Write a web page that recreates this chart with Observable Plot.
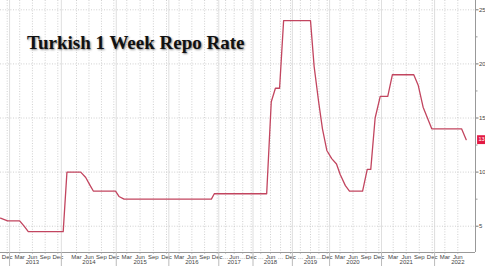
<!DOCTYPE html>
<html><head><meta charset="utf-8">
<script src="https://cdn.jsdelivr.net/npm/d3@7"></script>
<script src="https://cdn.jsdelivr.net/npm/@observablehq/plot@0.6"></script>
<style>
html,body{margin:0;padding:0;background:#fff;}
#wrap{position:relative;width:485px;height:266px;overflow:hidden;background:#fff;}
#title{position:absolute;left:27px;top:33px;font:bold 19px/19px "Liberation Serif","Times New Roman",serif;color:#111;text-shadow:1px 1px 2px rgba(0,0,0,.45);white-space:nowrap;z-index:2;}
</style></head><body><div id="wrap"><div id="title">Turkish 1 Week Repo Rate</div></div>
<script>
// Series: Turkish 1-week repo rate (%)
const dates = ["2012-10-27","2012-12-18","2013-03-15","2013-04-16","2013-05-16","2014-01-10","2014-01-28","2014-04-15","2014-05-22","2014-06-24","2014-07-17","2014-12-27","2015-01-20","2015-02-24","2016-11-03","2016-11-24","2018-05-10","2018-06-22","2018-07-30","2018-09-06","2018-10-13","2019-06-15","2019-07-25","2019-09-12","2019-10-24","2019-12-11","2020-01-16","2020-02-19","2020-03-17","2020-04-22","2020-05-21","2020-08-22","2020-09-24","2020-10-19","2020-11-19","2020-12-24","2021-02-09","2021-03-10","2021-08-07","2021-09-08","2021-10-12","2021-12-12","2022-07-11","2022-08-12"];
const rates = [5.75,5.5,5.5,5.0,4.5,4.5,10,10,9.5,8.75,8.25,8.25,7.75,7.5,7.5,8,8,16.5,17.75,17.75,24,24,19.75,16.5,14,12,11.25,10.75,9.75,8.75,8.25,8.25,10.25,10.25,15,17,17,19,19,18,16,14,14,13];

// Axis labels (quarterly: Dec, Mar, Jun, Sep)
const tickDates = d3.utcMonth.range(new Date("2012-12-01"), new Date("2022-07-01"), 3).map(d => d3.utcDay.offset(d, 14));
const tickLabels = ["Dec",
  "Mar","Jun","Sep","Dec",
  "Mar","Jun","Sep","Dec",
  "Mar","Jun","Sep","Dec",
  "Mar","Jun","Sep","Dec",
  "…","Jun","…","Dec",
  "…","Jun","…","Dec",
  "…","Jun","…","Dec",
  "Mar","Jun","Sep","Dec",
  "Mar","Jun","Sep","Dec",
  "Mar","Jun"];
const yearLabels = ["2013","2014","2015","2016","2017","2018","2019","2020","2021","2022"];
const yearLabelDates = yearLabels.map(y => new Date(`${y}-06-15`));
const yearStarts = yearLabels.map(y => new Date(`${y}-01-01`));
const yTicks = [5,10,15,20,25];
const yMinorTicks = [7.5,12.5,17.5,22.5];

// Irregular (piecewise) time axis as drawn in the source chart
const xKnotDates = ["2012-10-27","2012-12-15","2013-12-15","2014-03-15","2014-12-15","2015-12-15","2016-12-15","2017-12-15","2018-06-15","2018-12-15","2019-06-15","2019-12-15","2020-12-15","2021-03-15","2021-12-15","2022-06-15","2022-10-15"].map(d => new Date(d));
const xKnotPx = [0,6.7,57.3,76,113.3,166,216.7,250.7,270,290,310,326.7,378.3,392.7,431.7,457.3,475];

const data = dates.map((d, i) => ({date: new Date(d), rate: rates[i]}));
const labelMap = new Map(tickDates.map((d, i) => [+d, tickLabels[i]]));
const last = data[data.length - 1];
const yDomain = [2.57, 25.86];
const grid = "#c4c4c4";

const chart = Plot.plot({
  width: 485,
  height: 266,
  marginLeft: 0,
  marginRight: 10,
  marginTop: 0,
  marginBottom: 14,
  style: {fontFamily: "'Liberation Sans', Arial, sans-serif", fontSize: "6px", color: "#444", background: "#fff", overflow: "visible"},
  x: {type: "utc", domain: xKnotDates, range: xKnotPx, label: null},
  y: {domain: yDomain, label: null},
  marks: [
    Plot.ruleX(tickDates, {stroke: grid, strokeDasharray: "1,1.6", strokeWidth: 0.8}),
    Plot.ruleY(yTicks, {stroke: grid, strokeDasharray: "1,1.6", strokeWidth: 0.8}),
    Plot.ruleX(yearStarts, {stroke: "#d6d6d6", strokeWidth: 0.8}),
    Plot.line(data, {x: "date", y: "rate", stroke: "#c2455f", strokeWidth: 1.3}),
    Plot.ruleY([yDomain[0]], {stroke: "#999", strokeWidth: 1}),
    Plot.ruleX([xKnotDates[xKnotDates.length - 1]], {stroke: "#999", strokeWidth: 1}),
    Plot.axisX(tickDates, {anchor: "bottom", label: null, tickSize: 1.5, tickPadding: 0.5, stroke: "#999", tickFormat: d => labelMap.get(+d), fontSize: 6, fill: "#444"}),
    Plot.axisX(yearLabelDates, {anchor: "bottom", label: null, tickSize: 0, tickPadding: 7, tickFormat: d => d3.utcFormat("%Y")(d), fontSize: 6, fill: "#444"}),
    Plot.axisX(yearStarts, {anchor: "bottom", label: null, tickSize: 14, stroke: "#bbb", tickFormat: () => ""}),
    Plot.axisY(yTicks, {anchor: "right", label: null, tickSize: 2.5, tickPadding: 1, stroke: "#777", fontSize: 6, fill: "#444"}),
    Plot.axisY(yMinorTicks, {anchor: "right", label: null, tickSize: 1.5, stroke: "#999", tickFormat: () => ""}),
    Plot.dot([last], {y: "rate", frameAnchor: "right", dx: 6, symbol: "square", r: 5, fill: "#e21a43"}),
    Plot.text([last], {y: "rate", frameAnchor: "right", dx: 6, text: d => String(d.rate), fill: "white", fontSize: 5.5, textAnchor: "middle"})
  ]
});
document.getElementById("wrap").appendChild(chart);
chart.style.position = "absolute";
chart.style.left = "0";
chart.style.top = "0";
</script></body></html>
